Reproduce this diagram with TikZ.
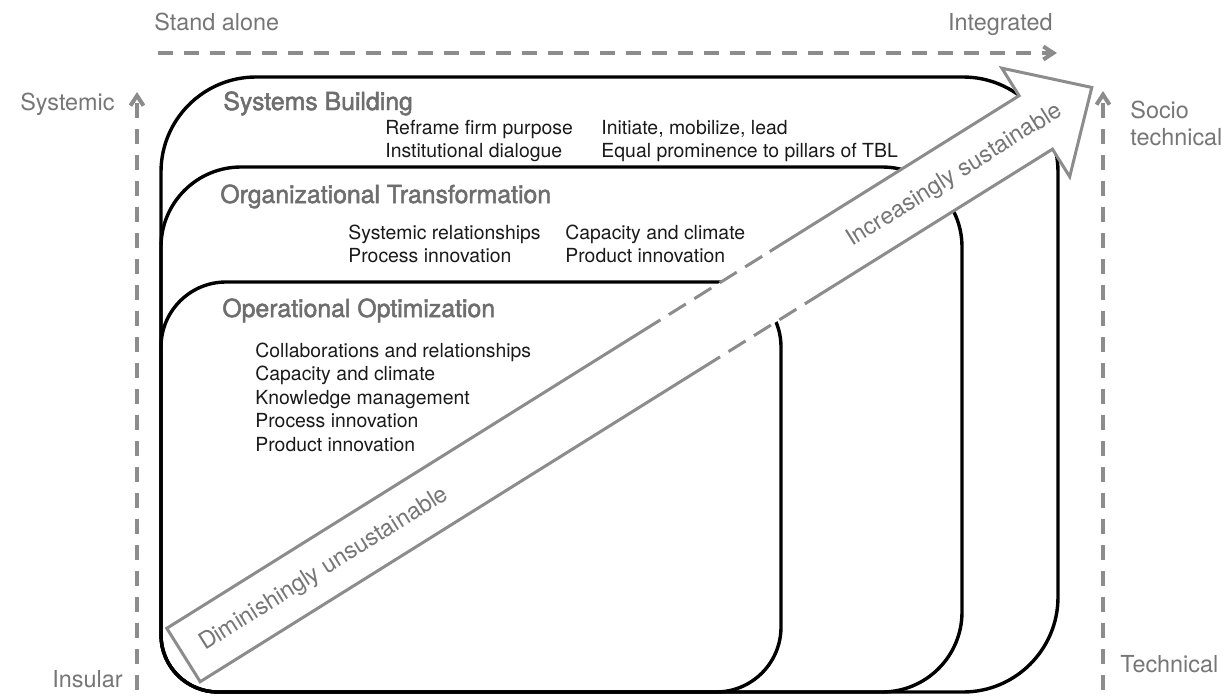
\documentclass[tikz,border=0pt]{standalone}
\usepackage{fontspec}
\setmainfont{TeX Gyre Heros}
\newfontfamily\headfont{TeX Gyre Heros}[FakeBold=2]
\usetikzlibrary{arrows.meta}
\definecolor{axisgray}{HTML}{8C8C8C}
\definecolor{labelgray}{HTML}{767676}
\definecolor{titlegray}{HTML}{6E6E6E}
\definecolor{itemblack}{HTML}{1A1A1A}
\begin{document}
\begin{tikzpicture}[>={Straight Barb[length=5pt,width=6.5pt]},x=0.5pt,y=-0.5pt,
	box/.style={line width=1.7pt,line join=round},
	axisline/.style={axisgray,line width=2pt,dash pattern=on 7.5pt off 5.5pt},
	lbl/.style={labelgray,inner sep=0pt,font=\fontsize{11.7}{14}\selectfont},
	blocktitle/.style={titlegray,inner sep=0pt,anchor=base west,font=\headfont\fontsize{12.4}{14}\selectfont},
	item/.style={itemblack,inner sep=0pt,anchor=base west,font=\fontsize{9.7}{12}\selectfont},
	arrowline/.style={axisgray,line width=1.5pt,line join=miter},
	arrowgap/.style={arrowline,dash pattern=on 10pt off 5pt,dash phase=10pt}]
	\def\xl{161} % shared left edge of the blocks
	\def\yb{692} % shared bottom
	\useasboundingbox (0,0) rectangle (1232,696);
	\fill[white] (0,0) rectangle (1232,696);
	% axes
	\coordinate (sa) at (158,53);
	\coordinate (ig) at (1057,53);
	\coordinate (ins) at (137,690);
	\coordinate (sys) at (137,92);
	\coordinate (tec) at (1103,690);
	\coordinate (soc) at (1103,91);
	\draw[axisline,->] (sa) -- (ig);
	\draw[axisline,->] (ins) -- (sys);
	\draw[axisline,->] (tec) -- (soc);
	% blocks
	\draw[box] (\xl,450) [rounded corners=47.5pt] -- (\xl,77) -- (1058,77) -- (1058,\yb) -- (600,\yb) [rounded corners=28.5pt] -- (\xl,\yb) -- cycle;
	\draw[box] (\xl,450) [rounded corners=40pt] -- (\xl,167) -- (962,167) -- (962,\yb) -- (600,\yb) [rounded corners=28.5pt] -- (\xl,\yb) -- cycle;
	\draw[box] (\xl,450) [rounded corners=32.5pt] -- (\xl,282) -- (781,282) -- (781,\yb) -- (500,\yb) [rounded corners=28.5pt] -- (\xl,\yb) -- cycle;
	% big arrow
	\begin{scope}[shift={(183.5,655)},rotate=32]
		\fill[white] (0,-31.5) -- (1005,-31.5) -- (1005,-64) -- (1071,0) -- (1005,64) -- (1005,31.5) -- (0,31.5) -- cycle;
		\draw[arrowline] (582,-31.5) -- (0,-31.5) -- (0,31.5) -- (613,31.5);
		\draw[arrowline] (728,31.5) -- (1005,31.5) -- (1005,64) -- (1071,0) -- (1005,-64) -- (1005,-31.5) -- (711,-31.5);
		\draw[arrowgap] (582,-31.5) -- (711,-31.5);
		\draw[arrowgap] (613,31.5) -- (728,31.5);
		\node[lbl,rotate=32,anchor=base west] (dim) at (20,8) {Diminishingly unsustainable};
		\node[lbl,rotate=32,anchor=base west] (inc) at (783,8) {Increasingly sustainable};
	\end{scope}
	% axis labels
	\node[lbl,anchor=base west] (standalone) at (154,30) {Stand alone};
	\node[lbl,anchor=base east] (integrated) at (1053,30) {Integrated};
	\node[lbl,anchor=base east] (systemic) at (115,110) {Systemic};
	\node[lbl,anchor=base east] (insular) at (123,687) {Insular};
	\node[lbl,anchor=base west] (socio) at (1130,118) {Socio};
	\node[lbl,anchor=base west] (socio2) at (1130,145) {technical};
	\node[lbl,anchor=base west] (technical) at (1120,672) {Technical};
	% block titles and contents
	\node[blocktitle] (sysb) at (223,110) {Systems Building};
	\node[item] (sb1) at (385,134) {Reframe firm purpose};
	\node[item] (sb2) at (385,157) {Institutional dialogue};
	\node[item] (sb3) at (601,134) {Initiate, mobilize, lead};
	\node[item] (sb4) at (601,157) {Equal prominence to pillars of TBL};
	\node[blocktitle] (orgt) at (220,203) {Organizational Transformation};
	\node[item] (ot1) at (348,239) {Systemic relationships};
	\node[item] (ot2) at (348,262) {Process innovation};
	\node[item] (ot3) at (565,239) {Capacity and climate};
	\node[item] (ot4) at (565,262) {Product innovation};
	\node[blocktitle] (opto) at (222,317) {Operational Optimization};
	\foreach \txt [count=\i] in {Collaborations and relationships,Capacity and climate,Knowledge management,Process innovation,Product innovation}
		\node[item] (oo\i) at (255,{357+23.5*(\i-1)}) {\txt};
\end{tikzpicture}
\end{document}
